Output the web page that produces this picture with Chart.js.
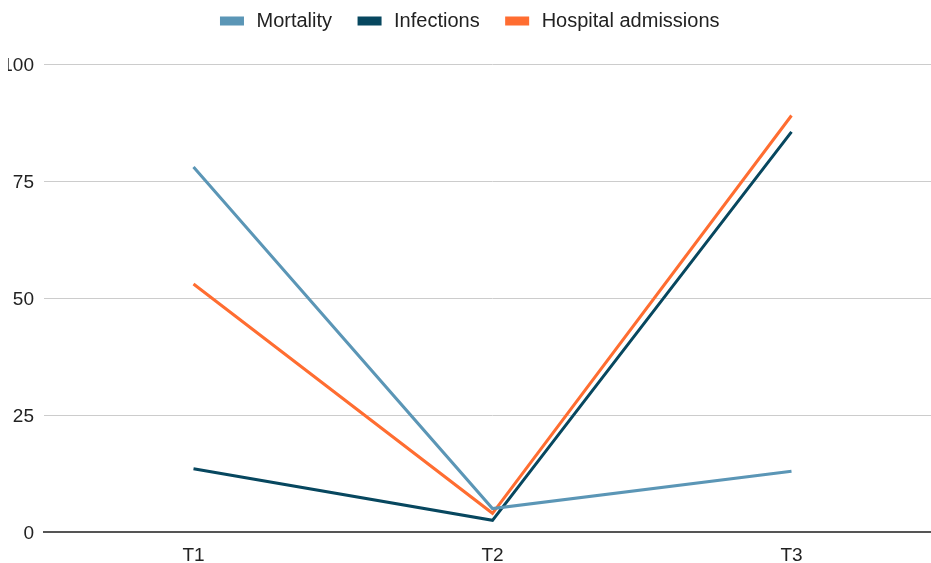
<!DOCTYPE html>
<html lang="en">
<head>
  <meta charset="UTF-8" />
  <title>Mortality, infections and hospital admissions</title>
  <script src="https://cdn.jsdelivr.net/npm/chart.js"></script>
  <style>
    html, body { margin: 0; padding: 0; background: #fff; overflow: hidden; }
    #wrap { position: absolute; left: 8px; top: 0; width: 923px; height: 563px; overflow: hidden; }
    #box { position: absolute; left: -28px; top: 0; width: 961px; height: 563px; }
  </style>
</head>
<body>
  <div id="wrap">
    <div id="box"><canvas id="grafica"></canvas></div>
  </div>

  <script>
    const periodos = ["T1", "T2", "T3"];
    const mortalidad = [78, 5, 13];
    const infecciones = [13.5, 2.5, 85.5];
    const hospital = [53, 4, 89];
    const ticksY = [0, 25, 50, 75, 100];

    const fuente = "'Liberation Sans', Arial, sans-serif";

    // ajusta el alto de la leyenda y la sube un poco
    const ajusteLeyenda = {
      id: "ajusteLeyenda",
      beforeInit(chart) {
        const leyenda = chart.legend;
        const fit = leyenda.fit;
        leyenda.fit = function () {
          fit.call(this);
          this.height += 7;
        };
        const draw = leyenda.draw;
        leyenda.draw = function () {
          const ctx = this.ctx;
          ctx.save();
          ctx.translate(10, -16);
          draw.call(this);
          ctx.restore();
        };
      }
    };

    new Chart(document.getElementById("grafica"), {
      type: "line",
      data: {
        labels: periodos,
        datasets: [
          { label: "Mortality", data: mortalidad, borderColor: "#5b96b6", backgroundColor: "#5b96b6" },
          { label: "Infections", data: infecciones, borderColor: "#07475f", backgroundColor: "#07475f" },
          { label: "Hospital admissions", data: hospital, borderColor: "#ff6d31", backgroundColor: "#ff6d31" }
        ]
      },
      options: {
        responsive: true,
        maintainAspectRatio: false,
        animation: false,
        devicePixelRatio: 1,
        elements: {
          line: { borderWidth: 3, tension: 0 },
          point: { radius: 0 }
        },
        plugins: {
          legend: {
            position: "top",
            labels: {
              boxWidth: 21,
              boxHeight: 6,
              padding: 27,
              color: "#222",
              font: { family: fuente, size: 20 },
              generateLabels(chart) {
                // un espacio fino para separar un poco más el texto de la muestra
                return Chart.defaults.plugins.legend.labels.generateLabels(chart)
                  .map(l => ({ ...l, text: "\u2009" + l.text }));
              }
            }
          },
          tooltip: { enabled: false }
        },
        scales: {
          x: {
            offset: true,
            grid: { display: false, drawTicks: false },
            border: { display: true, color: "#555", width: 2 },
            ticks: { color: "#222", padding: 12, font: { family: fuente, size: 19 } },
            afterFit(scale) { scale.height = 31; }
          },
          y: {
            min: 0,
            max: 100,
            afterBuildTicks(scale) { scale.ticks = ticksY.map(v => ({ value: v })); },
            grid: {
              drawTicks: false,
              color: ctx => ctx.tick && ctx.tick.value === 0 ? "rgba(0,0,0,0)" : "#cccccc",
              lineWidth: 1
            },
            border: { display: false },
            ticks: { color: "#222", padding: 10, labelOffset: 2, font: { family: fuente, size: 19 } },
            afterFit(scale) { scale.width = 64; }
          }
        }
      },
      plugins: [ajusteLeyenda]
    });
  </script>
</body>
</html>
